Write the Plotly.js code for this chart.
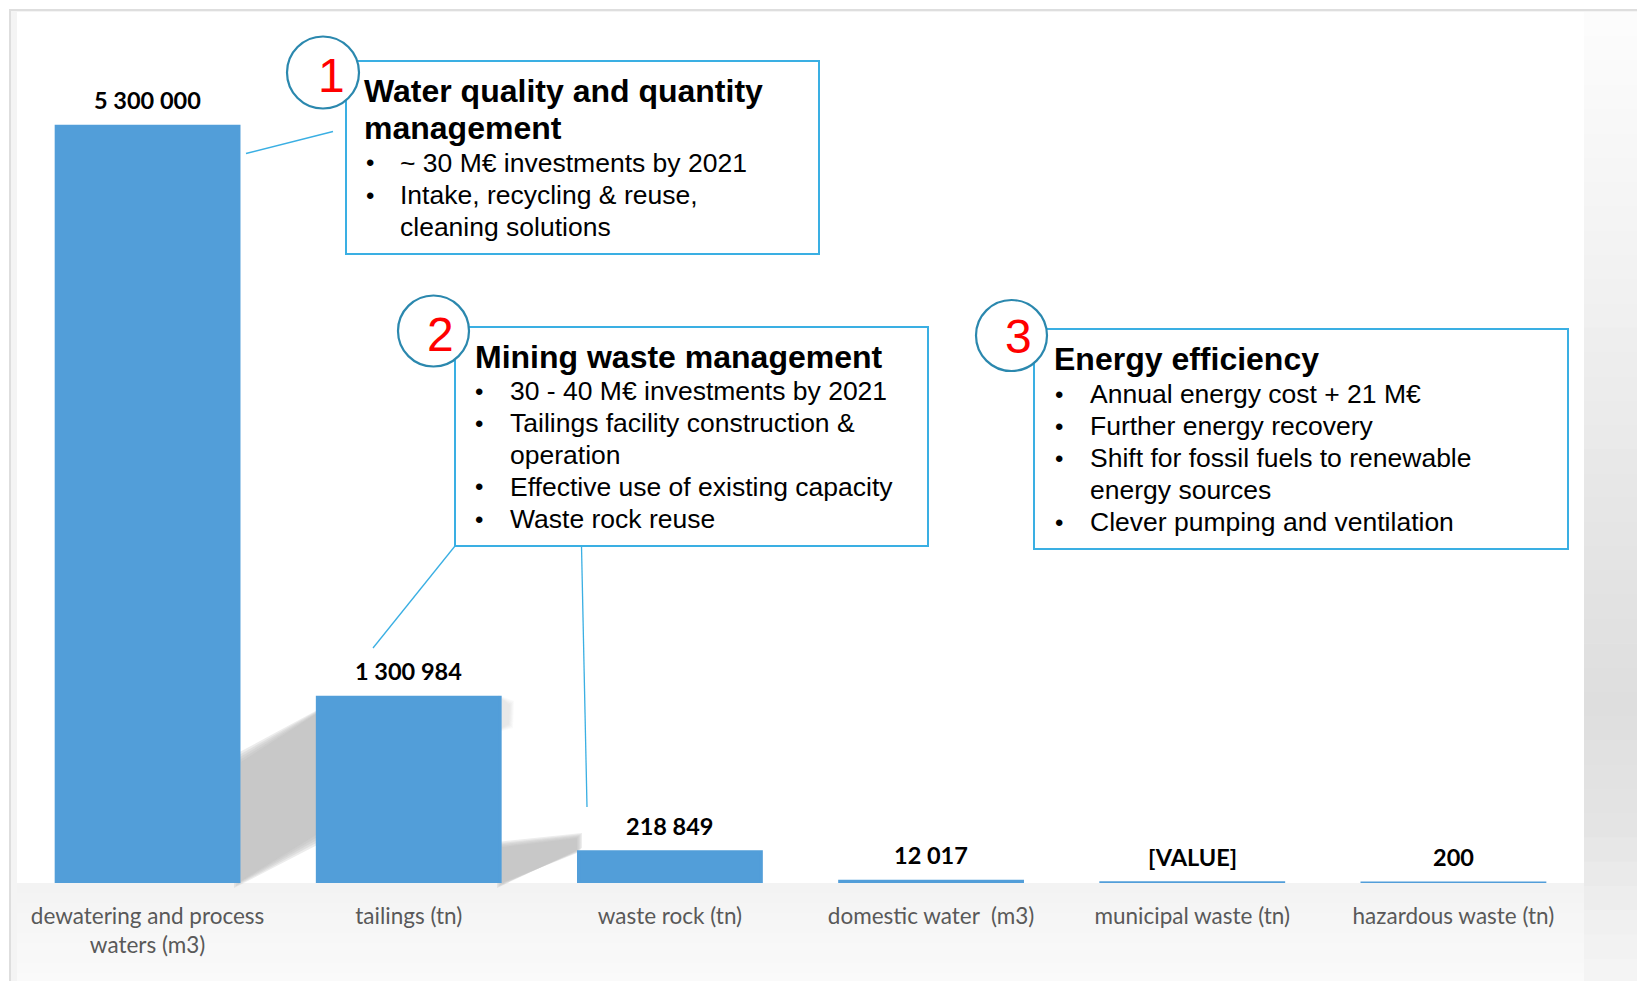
<!DOCTYPE html>
<html>
<head>
<meta charset="utf-8">
<script src="https://cdn.plot.ly/plotly-3.0.1.min.js"></script>
<style>html,body{margin:0;padding:0;background:#fff;}#chart{width:1637px;height:981px;}</style>
</head>
<body>
<div id="chart"></div>
<script>
// ---------- data ----------
const categories = ['dewatering and process<br>waters (m3)', 'tailings (tn)', 'waste rock (tn)', 'domestic water  (m3)', 'municipal waste (tn)', 'hazardous waste (tn)'];
const values = [5300000, 1300984, 218849, 12017, 1500, 200];
const valueLabels = ['5 300 000', '1 300 984', '218 849', '12 017', '[VALUE]', '200'];

const box1Title = ['Water quality and quantity', 'management'];
const box1Bullets = [['~ 30 M€ investments by 2021'], ['Intake, recycling & reuse,', 'cleaning solutions']];
const box2Title = ['Mining waste management'];
const box2Bullets = [['30 - 40 M€ investments by 2021'], ['Tailings facility construction &', 'operation'], ['Effective use of existing capacity'], ['Waste rock reuse']];
const box3Title = ['Energy efficiency'];
const box3Bullets = [['Annual energy cost + 21 M€'], ['Further energy recovery'], ['Shift for fossil fuels to renewable', 'energy sources'], ['Clever pumping and ventilation']];
const boxNumbers = ['1', '2', '3'];

// ---------- layout helpers ----------
const W = 1637, H = 981;
const ML = 17, MR = 53, MT = 12, MB = 98;
const PW = W - ML - MR, PH = H - MT - MB;
const xp = px => (px - ML) / PW;
const yp = py => (H - MB - py) / PH;

const shapes = [];
const annotations = [];

function rectPx(x0, y0, x1, y1, fill, layer, line) {
  shapes.push({type: 'rect', xref: 'paper', yref: 'paper', x0: xp(x0), x1: xp(x1), y0: yp(y1), y1: yp(y0),
    fillcolor: fill, line: line || {width: 0}, layer: layer || 'below'});
}
function grayBands(x0, x1, y0, y1, stops, n) {
  const step = (y1 - y0) / n;
  for (let i = 0; i < n; i++) {
    const ym = y0 + step * (i + 0.5);
    let g = stops[stops.length - 1][1];
    for (let k = 0; k < stops.length - 1; k++) {
      if (ym >= stops[k][0] && ym <= stops[k + 1][0]) {
        const t = (ym - stops[k][0]) / (stops[k + 1][0] - stops[k][0]);
        g = stops[k][1] + t * (stops[k + 1][1] - stops[k][1]);
      }
    }
    g = Math.round(g);
    rectPx(x0, y0 + step * i, x1, y0 + step * (i + 1) + 0.6, `rgb(${g},${g},${g})`);
  }
}
function polyPx(pts, fill) {
  const d = pts.map((p, i) => (i ? 'L' : 'M') + xp(p[0]).toFixed(5) + ',' + yp(p[1]).toFixed(5)).join(' ') + ' Z';
  shapes.push({type: 'path', xref: 'paper', yref: 'paper', path: d, fillcolor: fill, line: {width: 0}, layer: 'below'});
}
// soft shadow: several growing polygons at low opacity
function softShadow(pts, grow, layers, alpha) {
  const cx = pts.reduce((s, p) => s + p[0], 0) / pts.length;
  const cy = pts.reduce((s, p) => s + p[1], 0) / pts.length;
  for (let k = layers; k >= 0; k--) {
    const g = grow * k / layers;
    const q = pts.map(p => [p[0] + Math.sign(p[0] - cx) * g, p[1] + Math.sign(p[1] - cy) * g]);
    polyPx(q, `rgba(185,185,185,${alpha})`);
  }
}
function linePx(x0, y0, x1, y1, color, width) {
  shapes.push({type: 'line', xref: 'paper', yref: 'paper', x0: xp(x0), y0: yp(y0), x1: xp(x1), y1: yp(y1),
    line: {color: color, width: width}, layer: 'above'});
}
function textPx(x, y, text, size, opts) {
  annotations.push(Object.assign({xref: 'paper', yref: 'paper', x: xp(x), y: yp(y), text: text, showarrow: false,
    xanchor: 'left', yanchor: 'middle', font: {family: 'Liberation Sans, Arial, sans-serif', size: size, color: '#000'}}, opts || {}));
}

// background frame
rectPx(10, 10, W + 5, H + 5, '#f4f4f4', 'below', {color: '#dedede', width: 2});
rectPx(17, 12, 1584, 883, '#ffffff');
grayBands(1584, W + 2, 12, H + 2, [[12, 253], [150, 247], [350, 238], [550, 228], [700, 222], [840, 229], [883, 236], [981, 245]], 40);
grayBands(17, 1584, 883, H + 2, [[883, 243], [981, 250]], 10);

// bar shadows (decorative)
softShadow([[241, 762], [316, 714], [316, 835], [241, 881]], 7, 4, 0.28);
softShadow([[502, 847], [577, 838], [577, 853], [502, 883]], 5, 4, 0.26);
softShadow([[502, 699], [510, 705], [509, 724], [502, 728]], 4, 4, 0.07);

// ---------- boxes ----------
const boxColor = '#3aafe3';
const circleColor = '#2b88ae';
const boxes = [
  {rect: [346, 61, 819, 254], circle: [323, 72.5, 36], num: [331, 75], titleX: 362, titleY: 91, bulletX: 370, textX: 398, bulletY: 163, title: box1Title, bullets: box1Bullets},
  {rect: [455, 327, 928, 546], circle: [433.5, 331, 35.5], num: [440, 334], titleX: 473, titleY: 357, bulletX: 479, textX: 508, bulletY: 391, title: box2Title, bullets: box2Bullets},
  {rect: [1034, 329, 1568, 549], circle: [1011.5, 335.5, 35.5], num: [1018, 336], titleX: 1052, titleY: 359, bulletX: 1059, textX: 1088, bulletY: 394, title: box3Title, bullets: box3Bullets}
];

// connector lines
linePx(246, 153.5, 333, 131.5, boxColor, 1.3);
linePx(455, 546, 373, 648, boxColor, 1.3);
linePx(581.5, 546, 587, 807, boxColor, 1.3);

boxes.forEach((b, i) => {
  const [x0, y0, x1, y1] = b.rect;
  shapes.push({type: 'rect', xref: 'paper', yref: 'paper', x0: xp(x0), x1: xp(x1), y0: yp(y1), y1: yp(y0),
    fillcolor: '#ffffff', line: {color: boxColor, width: 2}, layer: 'above'});
  const [cx, cy, r] = b.circle;
  shapes.push({type: 'circle', xref: 'paper', yref: 'paper', x0: xp(cx - r), x1: xp(cx + r), y0: yp(cy + r), y1: yp(cy - r),
    fillcolor: '#ffffff', line: {color: circleColor, width: 2.2}, layer: 'above'});
  textPx(b.num[0], b.num[1], boxNumbers[i], 48, {xanchor: 'center', font: {family: 'Liberation Sans, Arial, sans-serif', size: 48, color: '#ff0000'}});
  b.title.forEach((t, k) => textPx(b.titleX, b.titleY + 37 * k, '<b>' + t + '</b>', 32));
  let line = 0;
  b.bullets.forEach(lines => {
    textPx(b.bulletX, b.bulletY + 32 * line, '•', 24, {xanchor: 'center'});
    lines.forEach(t => { textPx(b.textX, b.bulletY + 32 * line, t, 26.5); line++; });
  });
});

// value labels
categories.forEach((c, i) => {
  annotations.push({x: c, y: values[i], xref: 'x', yref: 'y', text: '<b>' + valueLabels[i] + '</b>', showarrow: false,
    xanchor: 'center', yanchor: 'bottom', yshift: 10, font: {family: 'Lato, sans-serif', size: 23.5, color: '#000'}});
});

const barColor = '#529ed9';
const trace = {
  type: 'bar', x: categories, y: values,
  marker: {color: barColor, line: {color: barColor, width: 3}},
  hoverinfo: 'skip'
};

const layout = {
  width: W, height: H,
  margin: {l: ML, r: MR, t: MT, b: MB, pad: 0},
  paper_bgcolor: '#ffffff', plot_bgcolor: '#ffffff',
  showlegend: false, bargap: 0.3,
  xaxis: {type: 'category', showgrid: false, zeroline: false, showline: false, ticks: 'outside', ticklen: 13,
    tickcolor: 'rgba(0,0,0,0)', tickfont: {family: 'Lato, sans-serif', size: 22.5, color: '#595959'}, fixedrange: true, automargin: false},
  yaxis: {range: [0, 6100000], visible: false, showgrid: false, zeroline: false, fixedrange: true},
  shapes: shapes, annotations: annotations, hovermode: false
};

Plotly.newPlot('chart', [trace], layout, {displayModeBar: false, staticPlot: true});
</script>
</body>
</html>
